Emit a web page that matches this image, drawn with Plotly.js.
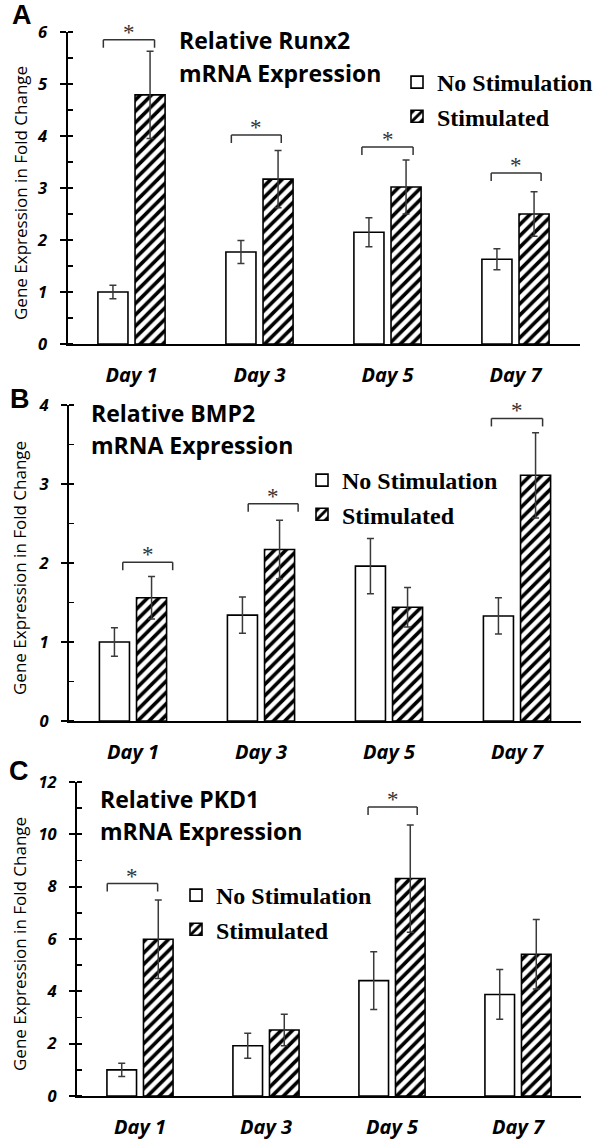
<!DOCTYPE html>
<html>
<head>
<meta charset="utf-8">
<script src="https://cdn.plot.ly/plotly-3.0.1.min.js"></script>
<style>
  html, body { margin: 0; padding: 0; background: #fff; }
  #chart { width: 600px; height: 1141px; }
</style>
</head>
<body>
<div id="chart"></div>
<script>
// ---------------- DATA ----------------
const days = ['Day 1', 'Day 3', 'Day 5', 'Day 7'];
const seriesNames = ['No Stimulation', 'Stimulated'];

// Panel A: Relative Runx2 mRNA Expression
const runx2NoStim = [1.00, 1.77, 2.15, 1.63];
const runx2NoStimErr = [0.13, 0.22, 0.28, 0.20];
const runx2Stim = [4.79, 3.17, 3.02, 2.50];
const runx2StimErr = [0.84, 0.55, 0.52, 0.43];
const runx2SigDays = ['Day 1', 'Day 3', 'Day 5', 'Day 7'];
const runx2SigLevel = [5.85, 4.02, 3.79, 3.29];

// Panel B: Relative BMP2 mRNA Expression
const bmp2NoStim = [1.00, 1.34, 1.96, 1.33];
const bmp2NoStimErr = [0.18, 0.23, 0.35, 0.23];
const bmp2Stim = [1.56, 2.17, 1.44, 3.11];
const bmp2StimErr = [0.27, 0.37, 0.25, 0.54];
const bmp2SigDays = ['Day 1', 'Day 3', 'Day 7'];
const bmp2SigLevel = [2.01, 2.75, 3.83];

// Panel C: Relative PKD1 mRNA Expression
const pkd1NoStim = [1.00, 1.92, 4.41, 3.88];
const pkd1NoStimErr = [0.25, 0.48, 1.10, 0.95];
const pkd1Stim = [5.99, 2.52, 8.31, 5.42];
const pkd1StimErr = [1.50, 0.60, 2.05, 1.33];
const pkd1SigDays = ['Day 1', 'Day 5'];
const pkd1SigLevel = [8.12, 11.04];

const yTitle = 'Gene Expression in Fold Change';

// ---------------- STYLE / LAYOUT ----------------
const W = 600, H = 1141;
const px = x => x / W;
const py = y => 1 - y / H;

const SANS = 'Open Sans, Liberation Sans, sans-serif';
const SERIF = 'Liberation Serif, Times New Roman, serif';
const ERRC = '#3a3a3a';

const panels = [
  {
    letter: 'A', noStim: runx2NoStim, noStimErr: runx2NoStimErr, stim: runx2Stim, stimErr: runx2StimErr,
    sigDays: runx2SigDays, sigLevel: runx2SigLevel, sigOff: [[-0.22, 0.18], [-0.22, 0.17], [-0.2, 0.2], [-0.19, 0.2]],
    title: ['Relative Runx2', 'mRNA Expression'], titleX: 177, titleY: [40, 73],
    yRange: [0, 6], dtick: 1, xPix: [67.5, 579.5], yPix: [32, 344],
    legendX: 397, legendY: 60, letterX: 10, letterY: 15
  },
  {
    letter: 'B', noStim: bmp2NoStim, noStimErr: bmp2NoStimErr, stim: bmp2Stim, stimErr: bmp2StimErr,
    sigDays: bmp2SigDays, sigLevel: bmp2SigLevel, sigOff: [[-0.08, 0.31], [-0.1, 0.29], [-0.2, 0.2]],
    title: ['Relative BMP2', 'mRNA Expression'], titleX: 89, titleY: [413, 445],
    yRange: [0, 4], dtick: 1, xPix: [69, 581], yPix: [405, 721],
    legendX: 302, legendY: 458, letterX: 8, letterY: 399
  },
  {
    letter: 'C', noStim: pkd1NoStim, noStimErr: pkd1NoStimErr, stim: pkd1Stim, stimErr: pkd1StimErr,
    sigDays: pkd1SigDays, sigLevel: pkd1SigLevel, sigOff: [[-0.26, 0.14], [-0.19, 0.2]],
    title: ['Relative PKD1', 'mRNA Expression'], titleX: 98, titleY: [799, 831],
    yRange: [0, 12], dtick: 2, xPix: [77, 581], yPix: [782, 1096],
    legendX: 176, legendY: 873, letterX: 7, letterY: 771
  }
];

const data = [];
const layout = {
  width: W, height: H,
  margin: { l: 0, r: 0, t: 0, b: 0 },
  paper_bgcolor: '#fff', plot_bgcolor: 'rgba(0,0,0,0)',
  barmode: 'group', bargap: 0.42, bargroupgap: 0.19,
  hovermode: false,
  annotations: [], shapes: []
};

panels.forEach((p, i) => {
  const n = i + 1;
  const xName = n === 1 ? 'x' : 'x' + n;
  const yName = n === 1 ? 'y' : 'y' + n;
  const xKey = n === 1 ? 'xaxis' : 'xaxis' + n;
  const yKey = n === 1 ? 'yaxis' : 'yaxis' + n;
  const legKey = n === 1 ? 'legend' : 'legend' + n;
  const ovKey = 'yaxis' + (n + 3);

  data.push({
    type: 'bar', name: seriesNames[0], x: days, y: p.noStim,
    xaxis: xName, yaxis: yName, legend: legKey,
    marker: { color: '#ffffff', line: { color: '#000', width: 1.6 } },
    error_y: { type: 'data', array: p.noStimErr, visible: true, color: ERRC, thickness: 1.5, width: 3.5 }
  });
  data.push({
    type: 'bar', name: seriesNames[1], x: days, y: p.stim,
    xaxis: xName, yaxis: yName, legend: legKey,
    marker: {
      color: '#ffffff', line: { color: '#000', width: 1.6 },
      pattern: { shape: '/', fgcolor: '#000', bgcolor: '#fff', size: 8, solidity: 0.45 }
    },
    error_y: { type: 'data', array: p.stimErr, visible: true, color: ERRC, thickness: 1.5, width: 3.5 }
  });

  layout[xKey] = {
    domain: [px(p.xPix[0]), px(p.xPix[1])], anchor: yName, type: 'category',
    showline: true, linecolor: '#000', linewidth: 2, ticks: '', showgrid: false, zeroline: false,
    tickfont: { family: SANS, size: 20, color: '#000', weight: 'bold', style: 'italic' },
    ticklabelstandoff: 12, fixedrange: true
  };
  layout[yKey] = {
    domain: [py(p.yPix[1]), py(p.yPix[0])], anchor: xName, range: p.yRange,
    dtick: p.dtick, tick0: 0, showline: true, linecolor: '#000', linewidth: 2,
    ticks: 'outside', ticklen: 6, tickwidth: 1.8, tickcolor: '#000',
    minor: { ticks: 'inside', ticklen: 5, dtick: p.dtick / 2, tick0: 0, tickwidth: 1.8, tickcolor: '#000', showgrid: false },
    showgrid: false, zeroline: false,
    tickfont: { family: SANS, size: 16.5, color: '#000', weight: 'bold', style: 'italic' },
    ticklabelstandoff: 9, fixedrange: true
  };
  // inner tick marks at every half step (including majors) drawn by an overlaid axis
  layout[ovKey] = {
    overlaying: yName, anchor: xName, side: 'left', range: p.yRange,
    dtick: p.dtick / 2, tick0: 0, ticks: 'inside', ticklen: 5, tickwidth: 1.8, tickcolor: '#000',
    showticklabels: false, showline: false, showgrid: false, zeroline: false, fixedrange: true
  };

  layout[legKey] = {
    x: px(p.legendX), y: py(p.legendY), xanchor: 'left', yanchor: 'top',
    bgcolor: 'rgba(0,0,0,0)', borderwidth: 0, traceorder: 'normal',
    font: { family: SERIF, size: 24, color: '#000', weight: 'bold' }
  };

  // panel letter
  layout.annotations.push({
    xref: 'paper', yref: 'paper', x: px(p.letterX), y: py(p.letterY),
    xanchor: 'left', yanchor: 'middle', showarrow: false, text: p.letter,
    font: { family: 'Liberation Sans, Arial, sans-serif', size: 27, color: '#000', weight: 'bold' }
  });
  // panel title (two lines)
  p.title.forEach((t, k) => {
    layout.annotations.push({
      xref: 'paper', yref: 'paper', x: px(p.titleX), y: py(p.titleY[k]),
      xanchor: 'left', yanchor: 'middle', showarrow: false, text: t,
      font: { family: SANS, size: 23, color: '#000', weight: 'bold' }
    });
  });
  // y axis title
  layout.annotations.push({
    xref: 'paper', yref: 'paper', x: px(20), y: py((p.yPix[0] + p.yPix[1]) / 2 + 5),
    xanchor: 'center', yanchor: 'middle', showarrow: false, text: yTitle, textangle: -90,
    font: { family: SANS, size: 17, color: '#000' }
  });

  // significance brackets
  const leg = 8 * (p.yRange[1] - p.yRange[0]) / (p.yPix[1] - p.yPix[0]);
  p.sigDays.forEach((d, k) => {
    const c = days.indexOf(d);
    const x0 = c + p.sigOff[k][0], x1 = c + p.sigOff[k][1];
    const yv = p.sigLevel[k];
    const ln = { color: '#333', width: 1.5 };
    layout.shapes.push({ type: 'line', xref: xName, yref: yName, x0: x0, x1: x1, y0: yv, y1: yv, line: ln });
    layout.shapes.push({ type: 'line', xref: xName, yref: yName, x0: x0, x1: x0, y0: yv, y1: yv - leg, line: ln });
    layout.shapes.push({ type: 'line', xref: xName, yref: yName, x0: x1, x1: x1, y0: yv, y1: yv - leg, line: ln });
    layout.annotations.push({
      xref: xName, yref: yName, x: (x0 + x1) / 2, y: yv, xanchor: 'center', yanchor: 'bottom',
      showarrow: false, text: '*', yshift: -7,
      font: { family: SERIF, size: 23, color: '#333' }
    });
  });
});

Plotly.newPlot('chart', data, layout, { displayModeBar: false, staticPlot: true });
</script>
</body>
</html>
